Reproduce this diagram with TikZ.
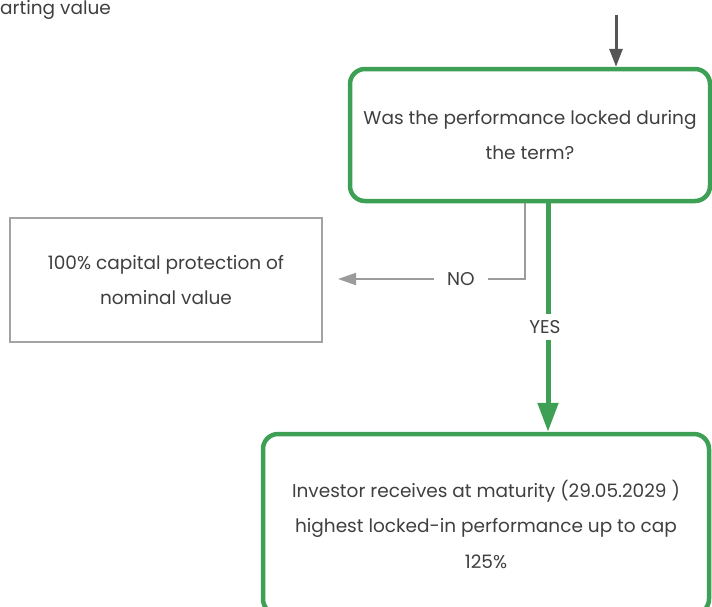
\documentclass[tikz,border=0pt]{standalone}
\usepackage{fontspec}
\setmainfont{Poppins}
\usetikzlibrary{arrows.meta}
\definecolor{fgreen}{HTML}{3DA054}
\definecolor{fgray}{HTML}{9B9B9B}
\definecolor{boxgray}{HTML}{A3A3A3}
\definecolor{darkarrow}{HTML}{555555}
\definecolor{txt}{HTML}{3F3F3F}
\tikzset{
  txtfont/.style={font=\fontsize{18.5}{35.5}\selectfont, text=txt},
  greenbox/.style={draw=fgreen, line width=4.5pt, rounded corners=15pt, align=center, txtfont},
  graybox/.style={draw=boxgray, line width=2pt, align=center, txtfont},
  yesline/.style={draw=fgreen, line width=5pt, -{Triangle[length=29pt,width=20pt]}},
  noline/.style={draw=fgray, line width=2pt, -{Triangle[length=18pt,width=12pt]}},
  startline/.style={draw=darkarrow, line width=3pt, -{Triangle[length=18pt,width=13pt]}},
  lbl/.style={fill=white, txtfont, inner ysep=6pt}
}
\begin{document}
\begin{tikzpicture}[x=1pt,y=-1pt]
\useasboundingbox (0,0) rectangle (712,606);
\node[txtfont, anchor=west, inner sep=0pt] (sv) at (0,10) {arting value};
\node[greenbox, minimum width=360pt, minimum height=132pt] (q) at (530,135)
  {Was the performance locked during\\the term?};
\node[graybox, minimum width=312pt, minimum height=124pt] (p) at (166,280)
  {100\% capital protection of\\nominal value};
\node[greenbox, minimum width=446pt, minimum height=180pt] (r) at (486,524)
  {Investor receives at maturity (29.05.2029 )\\highest locked-in performance up to cap\\125\%};
\coordinate (s) at (616,15);
\draw[startline] (s) -- (s |- q.north);
\coordinate (nx) at (525,279);
\draw[noline, shorten >=15pt] (q.south -| nx) -- (nx) -- (p.east |- nx);
\node[lbl, inner xsep=13pt] (no) at (461,279) {NO};
\coordinate (yx) at (548,300);
\draw[yesline] (q.south -| yx) -- (r.north -| yx);
\node[lbl, inner xsep=2pt] (yes) at (545,327) {YES};
\end{tikzpicture}
\end{document}
